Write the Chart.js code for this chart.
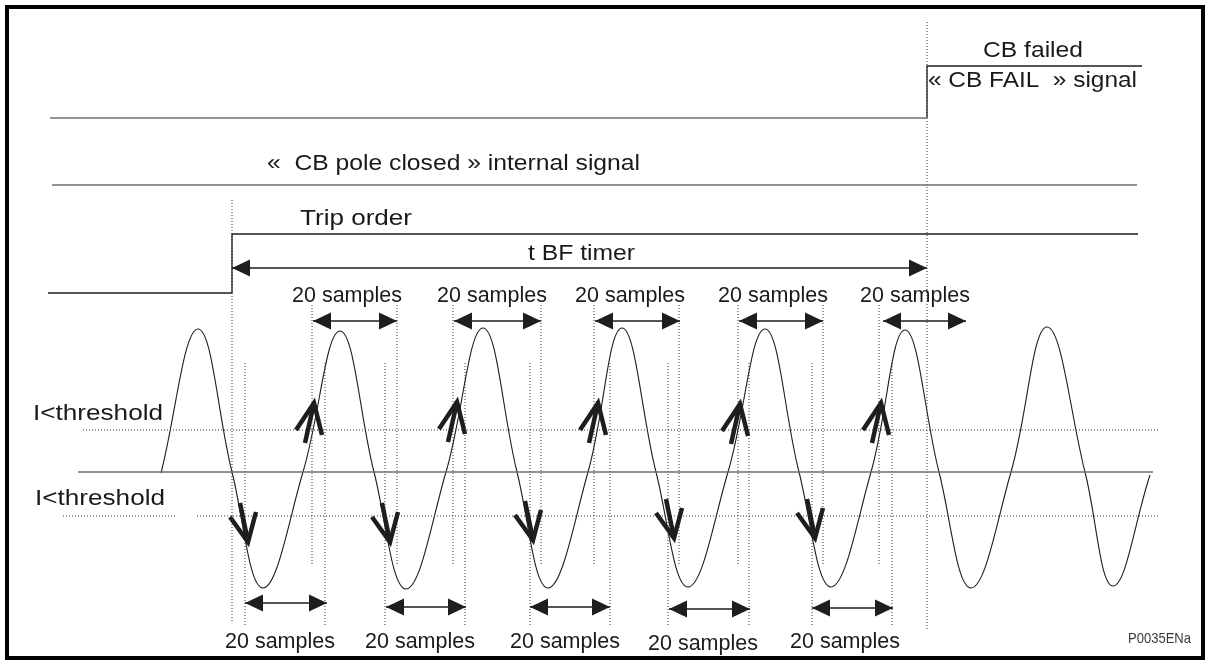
<!DOCTYPE html>
<html><head><meta charset="utf-8">
<script src="https://cdn.jsdelivr.net/npm/chart.js@4.4.1/dist/chart.umd.min.js"></script>
<style>html,body{margin:0;padding:0;background:#fff;}#wrap{position:relative;width:1210px;height:664px;}</style>
</head><body><div id="wrap"><canvas id="c" width="1210" height="664"></canvas></div>
<script>
// ---- Data (time axis t, level axis v; both in diagram units) ----
const cbFailT = [50, 927, 927, 1142];
const cbFailV = [118, 118, 66, 66];
const poleClosedT = [52, 1137];
const poleClosedV = [185, 185];
const tripT = [48, 232, 232, 1138];
const tripV = [293, 293, 234, 234];
const zeroT = [78, 1153];
const zeroV = 472;
const upperThrT = [83, 1160];
const upperThrV = 430;
const lowerThrSegT = [[63, 175], [197, 1160]];
const lowerThrV = 516;
// current waveform: start, then peak / falling zero / trough / rising zero for each cycle
const currentT = [161,198,232,263,303,340,374,406,446,483,517,548,588,622,656,688,728,765,799,831,871,905,939,971,1011,1047,1085,1113,1150];
const currentV = [473,329,472,588,472,331,472,589,472,328,472,588,472,328,472,587,472,329,472,587,472,330,472,588,472,327,472,586,475];
const tripTime = 232, tripMarkTop = 200, tripMarkBottom = 623;
const failTime = 927, failMarkTop = 22, failMarkBottom = 630;
const tbfV = 268;
const upperSampleStart = [313, 454, 595, 739, 883];
const upperSampleEnd   = [397, 541, 680, 823, 966];
const upperSampleV = 321;
const upperMarkT = [312, 397, 453, 541, 594, 679, 738, 823, 879];
const upperMarkTop = 305, upperMarkBottom = 566;
const lowerSampleStart = [245, 386, 530, 669, 812];
const lowerSampleEnd   = [327, 466, 610, 750, 893];
const lowerSampleV = [603, 607, 607, 609, 608];
const lowerMarkT = [245, 325, 385, 465, 530, 610, 668, 749, 812, 892];
const lowerMarkTop = 363, lowerMarkBottom = 626;
const riseCrossT = [314, 457, 598, 740, 881];
const riseCrossV = [403, 402, 403, 404, 403];
const fallCrossT = [248, 390, 533, 674, 815];
const fallCrossV = [542, 542, 540, 538, 538];
const upperLabelT = [292, 437, 575, 718, 860];
const lowerLabelT = [225, 365, 510, 648, 790];
const lowerLabelV = [648, 648, 648, 650, 648];

// ---- build datasets ----
const pts = (ts, vs) => ts.map((t, i) => ({x: t, y: Array.isArray(vs) ? vs[i] : vs}));
function verticals(ts, top, bottom) {
  const out = [];
  ts.forEach(t => { out.push({x: t, y: top}, {x: t, y: bottom}, {x: t, y: null}); });
  return out;
}
function horizontals(starts, ends, vs) {
  const out = [];
  starts.forEach((s, i) => { const v = Array.isArray(vs) ? vs[i] : vs; out.push({x: s, y: v}, {x: ends[i], y: v}, {x: ends[i], y: null}); });
  return out;
}
const lowerThrData = [];
lowerThrSegT.forEach(s => lowerThrData.push({x: s[0], y: lowerThrV}, {x: s[1], y: lowerThrV}, {x: s[1], y: null}));

const dark = '#1e1e1e', grey = '#6e6e6e';
const base = {pointRadius: 0, fill: false, tension: 0, borderWidth: 1.3, spanGaps: false};
const datasets = [
  {...base, label: 'CB FAIL low', data: pts(cbFailT.slice(0, 2), cbFailV.slice(0, 2)), borderColor: grey, borderWidth: 1.6},
  {...base, label: 'CB FAIL', data: pts(cbFailT.slice(1), cbFailV.slice(1)), borderColor: dark},
  {...base, label: 'CB pole closed', data: pts(poleClosedT, poleClosedV), borderColor: grey, borderWidth: 1.6},
  {...base, label: 'Trip order', data: pts(tripT, tripV), borderColor: dark},
  {...base, label: 'zero', data: pts(zeroT, zeroV), borderColor: grey, borderWidth: 1.6},
  {...base, label: 'upper threshold', data: pts(upperThrT, upperThrV), borderColor: '#333', borderWidth: 1, borderDash: [1, 2]},
  {...base, label: 'lower threshold', data: lowerThrData, borderColor: '#333', borderWidth: 1, borderDash: [1, 2]},
  {...base, label: 'markers', data: verticals([tripTime], tripMarkTop, tripMarkBottom).concat(verticals([failTime], failMarkTop, failMarkBottom), verticals(upperMarkT, upperMarkTop, upperMarkBottom), verticals(lowerMarkT, lowerMarkTop, lowerMarkBottom)), borderColor: '#333', borderWidth: 1, borderDash: [1, 2]},
  {...base, label: 'current', data: pts(currentT, currentV), borderColor: dark, borderWidth: 1.1, tension: 0.4},
  {...base, label: 'tBF', data: horizontals([tripTime], [failTime], tbfV), borderColor: dark},
  {...base, label: 'upper samples', data: horizontals(upperSampleStart, upperSampleEnd, upperSampleV), borderColor: dark},
  {...base, label: 'lower samples', data: horizontals(lowerSampleStart, lowerSampleEnd, lowerSampleV), borderColor: dark}
];

// ---- texts ----
const FONT = '"Liberation Sans", Arial, sans-serif';
const texts = [
  {s: 'CB failed', t: 983, v: 57, w: 100},
  {s: '\u00AB CB FAIL  \u00BB signal', t: 928, v: 87, w: 209},
  {s: '\u00AB  CB pole closed \u00BB internal signal', t: 267, v: 170, w: 373},
  {s: 'Trip order', t: 300, v: 225, w: 112},
  {s: 't BF timer', t: 528, v: 260, w: 107},
  {s: 'I<threshold', t: 33, v: 420, w: 130},
  {s: 'I<threshold', t: 35, v: 505, w: 130}
];
upperLabelT.forEach(t => texts.push({s: '20 samples', t: t, v: 302, w: 110}));
lowerLabelT.forEach((t, i) => texts.push({s: '20 samples', t: t, v: lowerLabelV[i], w: 110}));

const diagramPlugin = {
  id: 'diagram',
  afterDatasetsDraw(chart) {
    const ctx = chart.ctx, X = chart.scales.x, Y = chart.scales.y;
    const px = t => X.getPixelForValue(t), py = v => Y.getPixelForValue(v);
    ctx.save();
    ctx.fillStyle = dark;
    function head(t, v, dir) {
      const x = px(t), y = py(v), L = 18, H = 8.5;
      ctx.beginPath(); ctx.moveTo(x, y); ctx.lineTo(x - dir * L, y - H); ctx.lineTo(x - dir * L, y + H); ctx.closePath(); ctx.fill();
    }
    head(tripTime, tbfV, -1); head(failTime, tbfV, 1);
    upperSampleStart.forEach((s, i) => { head(s, upperSampleV, -1); head(upperSampleEnd[i], upperSampleV, 1); });
    lowerSampleStart.forEach((s, i) => { head(s, lowerSampleV[i], -1); head(lowerSampleEnd[i], lowerSampleV[i], 1); });
    ctx.strokeStyle = dark; ctx.lineWidth = 4.5; ctx.lineCap = 'butt'; ctx.lineJoin = 'miter';
    function bold(t, v, tail, wl, wr) {
      const x = px(t), y = py(v);
      ctx.beginPath(); ctx.moveTo(x + wl[0], y + wl[1]); ctx.lineTo(x, y); ctx.lineTo(x + wr[0], y + wr[1]); ctx.stroke();
      ctx.beginPath(); ctx.moveTo(x + tail[0], y + tail[1]); ctx.lineTo(x, y); ctx.stroke();
    }
    riseCrossT.forEach((t, i) => bold(t, riseCrossV[i], [-9, 40], [-18, 27], [8, 32]));
    fallCrossT.forEach((t, i) => bold(t, fallCrossV[i], [-8, -39], [-18, -25], [8, -30]));
    ctx.textBaseline = 'alphabetic'; ctx.textAlign = 'left';
    function txt(s, t, v, w, font, color) {
      ctx.font = font; ctx.fillStyle = color;
      const m = ctx.measureText(s).width;
      ctx.save(); ctx.translate(px(t), py(v)); ctx.scale(w / m, 1); ctx.fillText(s, 0, 0); ctx.restore();
    }
    texts.forEach(o => txt(o.s, o.t, o.v, o.w, '22px ' + FONT, '#1a1a1a'));
    txt('P0035ENa', 1128, 643, 63, '15px "Liberation Sans Narrow", ' + FONT, '#3a3a3a');
    ctx.strokeStyle = '#000'; ctx.lineWidth = 4; ctx.setLineDash([]);
    ctx.strokeRect(7, 7, 1196, 651);
    ctx.restore();
  }
};

new Chart(document.getElementById('c'), {
  type: 'line',
  data: {datasets},
  options: {
    responsive: false, animation: false, devicePixelRatio: 1,
    layout: {padding: 0},
    plugins: {legend: {display: false}, tooltip: {enabled: false}},
    scales: {
      x: {type: 'linear', min: 0, max: 1210, display: false},
      y: {type: 'linear', min: 0, max: 664, reverse: true, display: false}
    }
  },
  plugins: [diagramPlugin]
});
</script></body></html>
